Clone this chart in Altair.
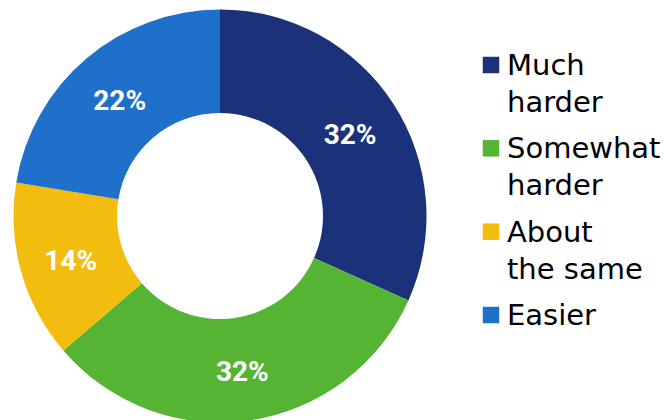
import altair as alt
import pandas as pd

categories = ["Much harder", "Somewhat harder", "About the same", "Easier"]
legend_text = ["Much|harder", "Somewhat|harder", "About|the same", "Easier"]
values = [31.7, 32.0, 13.9, 22.4]
colors = ["#1B317A", "#56B435", "#F2BD0F", "#1F70CA"]

df = pd.DataFrame({
    "category": categories,
    "value": values,
    "legend": legend_text,
    "order": list(range(len(categories))),
})

FONT = "DejaVu Sans"
CX, CY = 220, 216
color = alt.Color("category:N", scale=alt.Scale(domain=categories, range=colors), legend=None)
theta = alt.Theta("value:Q", stack=True)
order = alt.Order("order:Q")

arc = alt.Chart().mark_arc(outerRadius=206.5, innerRadius=103).encode(
    theta=theta, color=color, order=order,
    x=alt.value(CX), y=alt.value(CY),
)

labels = alt.Chart().transform_calculate(
    lbl="round(datum.value) + '%'"
).mark_text(radius=155, dy=4, font="Roboto", fontSize=28, fontWeight="bold", color="white").encode(
    theta=theta, order=order, text="lbl:N",
    x=alt.value(CX), y=alt.value(CY),
)

ypos = alt.Y("category:N", sort=categories,
             scale=alt.Scale(type="point", range=[65, 315], padding=0), axis=None)

squares = alt.Chart().mark_square(size=272, opacity=1, filled=True).encode(
    x=alt.value(491), y=ypos, color=color,
)

leg = alt.Chart().transform_calculate(
    lines="split(datum.legend, '|')"
).mark_text(align="left", baseline="alphabetic", font=FONT, fontSize=29,
            lineHeight=37, dy=10, color="black").encode(
    x=alt.value(507), y=ypos, text="lines:N",
)

chart = alt.layer(arc, labels, squares, leg, data=df).properties(
    width=672, height=420, padding=0, autosize="none"
).configure_view(stroke=None)

chart.save("out.html", embed_options={"renderer": "svg", "actions": False})
